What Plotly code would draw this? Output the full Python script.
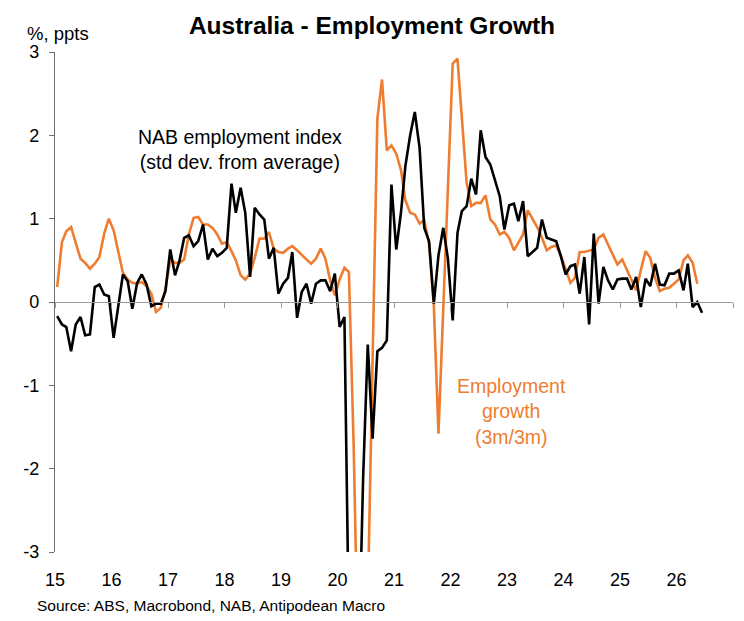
import pandas as pd
import plotly.graph_objects as go

# NAB employment index (std dev from average), monthly from Jan 2015
nab_index = [
    -0.17, -0.27, -0.30, -0.59, -0.27, -0.18, -0.40, -0.39, 0.18, 0.21, 0.09, 0.07,
    -0.43, -0.04, 0.33, 0.25, -0.08, 0.23, 0.33, 0.21, -0.05, -0.02, -0.02, 0.13,
    0.63, 0.32, 0.49, 0.77, 0.80, 0.67, 0.73, 0.93, 0.51, 0.64, 0.55, 0.59,
    0.65, 1.42, 1.07, 1.37, 1.07, 0.30, 1.13, 1.05, 0.99, 0.52, 0.65, 0.10,
    0.22, 0.29, 0.60, -0.19, 0.12, 0.22, -0.02, 0.22, 0.26, 0.26, 0.13, 0.34,
    -0.30, -0.18, -3.2, -8.0, -4.5, -2.1, -0.51, -1.64, -0.59, -0.55, -0.46, 1.41,
    0.63, 1.08, 1.63, 2.00, 2.28, 1.85, 0.89, 0.73, -0.02, 0.56, 0.89, 0.52,
    -0.22, 0.83, 1.09, 1.15, 1.48, 1.29, 2.06, 1.74, 1.65, 1.47, 1.27, 0.87,
    1.16, 1.18, 0.97, 1.21, 0.55, 0.60, 0.65, 0.99, 0.77, 0.75, 0.73, 0.55,
    0.33, 0.43, 0.45, 0.10, 0.54, -0.27, 0.82, -0.02, 0.42, 0.26, 0.15, 0.27,
    0.28, 0.28, 0.15, 0.30, -0.06, 0.28, 0.19, 0.46, 0.21, 0.20, 0.34, 0.34,
    0.38, 0.14, 0.46, -0.06, 0.00, -0.13,
]

# Employment growth (3m/3m, %), monthly from Jan 2015
emp_growth = [
    0.18, 0.72, 0.85, 0.90, 0.71, 0.52, 0.47, 0.40, 0.46, 0.54, 0.82, 1.00,
    0.86, 0.59, 0.35, 0.27, 0.23, 0.22, 0.24, 0.19, 0.10, -0.12, -0.07, 0.16,
    0.51, 0.47, 0.47, 0.51, 0.81, 1.01, 1.02, 0.93, 0.93, 0.89, 0.81, 0.70,
    0.72, 0.61, 0.50, 0.32, 0.27, 0.34, 0.53, 0.76, 0.76, 0.84, 0.64, 0.60,
    0.59, 0.64, 0.67, 0.62, 0.56, 0.51, 0.46, 0.52, 0.64, 0.52, 0.26, 0.08,
    0.27, 0.41, 0.36, -1.74, -4.5, -6.5, -3.6, -0.7, 2.20, 2.67, 1.82, 1.88,
    1.78, 1.58, 1.22, 1.07, 1.05, 0.94, 0.98, 0.70, -0.04, -1.58, 0.00, 1.50,
    2.86, 2.92, 2.22, 1.43, 1.15, 1.19, 1.19, 1.28, 0.99, 0.93, 0.81, 0.84,
    0.77, 0.62, 0.71, 0.81, 1.10, 0.99, 0.90, 0.77, 0.62, 0.66, 0.68, 0.56,
    0.40, 0.23, 0.29, 0.60, 0.60, 0.62, 0.63, 0.77, 0.81, 0.69, 0.57, 0.45,
    0.51, 0.38, 0.27, 0.14, 0.38, 0.61, 0.53, 0.29, 0.13, 0.16, 0.17, 0.22,
    0.27, 0.50, 0.56, 0.47, 0.22,
]

year_ticks = list(range(2015, 2028))
year_labels = [str(y)[2:] for y in range(2015, 2027)]
y_ticks = [-3, -2, -1, 0, 1, 2, 3]

dates_nab = pd.date_range("2015-01-01", periods=len(nab_index), freq="MS") + pd.Timedelta(days=14)
dates_emp = pd.date_range("2015-01-01", periods=len(emp_growth), freq="MS") + pd.Timedelta(days=14)

ORANGE = "#EE7D31"
FONT = "Liberation Sans, Arial, sans-serif"

fig = go.Figure()
fig.add_trace(go.Scatter(x=dates_emp, y=emp_growth, mode="lines",
                         line=dict(color=ORANGE, width=2.6), name="Employment growth"))
fig.add_trace(go.Scatter(x=dates_nab, y=nab_index, mode="lines",
                         line=dict(color="#000000", width=2.6), name="NAB employment index"))
# helper trace for the zero-line axis with ticks
fig.add_trace(go.Scatter(x=[dates_nab[0]], y=[0], xaxis="x2", yaxis="y", mode="lines",
                         line=dict(color="rgba(0,0,0,0)"), showlegend=False, hoverinfo="skip"))

x_range = ["2015-01-01", "2027-01-01"]
fig.update_layout(
    width=744, height=621,
    margin=dict(l=55, r=11, t=52, b=69),
    paper_bgcolor="white", plot_bgcolor="white",
    showlegend=False,
    font=dict(family=FONT, color="#000000", size=18),
    title=dict(text="<b>Australia - Employment Growth</b>", x=0.5, xanchor="center",
               y=1 - 25 / 621, yanchor="middle", yref="container",
               font=dict(size=24.5, family=FONT, color="#000000")),
    xaxis=dict(type="date", range=x_range,
               tickvals=[f"{y}-01-01" for y in range(2015, 2027)], ticktext=year_labels,
               showgrid=False, zeroline=False, showline=False,
               ticks="outside", ticklen=11, tickcolor="rgba(0,0,0,0)",
               tickfont=dict(size=18)),
    xaxis2=dict(type="date", range=x_range, overlaying="x", anchor="free", position=0.5,
                tickvals=[f"{y}-01-01" for y in year_ticks], showticklabels=False,
                showgrid=False, zeroline=False, showline=True, linecolor="#9a9a9a", linewidth=1.3,
                ticks="outside", ticklen=5, tickcolor="#9a9a9a", tickwidth=1),
    yaxis=dict(range=[-3, 3], tickvals=y_ticks, ticktext=[str(v) for v in y_ticks],
               showgrid=False, zeroline=False, showline=True, linecolor="#6e6e6e", linewidth=1.3,
               ticks="outside", ticklen=5, tickcolor="#6e6e6e", tickfont=dict(size=18),
               ticklabelstandoff=6),
)

fig.add_annotation(text="%, ppts", xref="paper", yref="paper", x=(25 - 55) / 678, y=(552 - 34) / 500,
                   xanchor="left", yanchor="middle", showarrow=False, font=dict(size=18.5))
fig.add_annotation(text="NAB employment index<br>(std dev. from average)", xref="paper", yref="paper",
                   x=(240 - 55) / 678, y=(552 - 150) / 500, xanchor="center", yanchor="middle",
                   showarrow=False, font=dict(size=19.5, color="#000000"))
fig.add_annotation(text="Employment<br>growth<br>(3m/3m)", xref="paper", yref="paper",
                   x=(511 - 55) / 678, y=(552 - 411) / 500, xanchor="center", yanchor="middle",
                   showarrow=False, font=dict(size=19.5, color=ORANGE))
fig.add_annotation(text="Source: ABS, Macrobond, NAB, Antipodean Macro", xref="paper", yref="paper",
                   x=(35 - 55) / 678, y=(552 - 605) / 500, xanchor="left", yanchor="middle",
                   showarrow=False, font=dict(size=15.5))

fig.write_html("out.html")
